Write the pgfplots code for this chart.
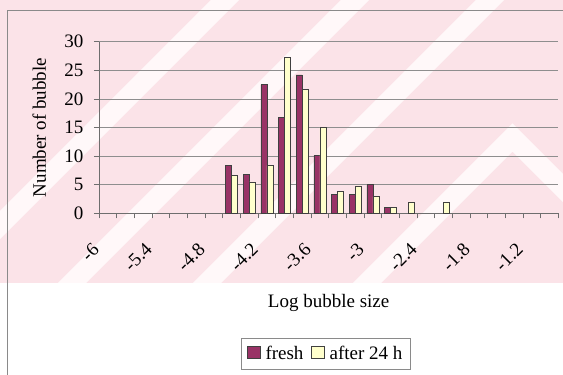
\documentclass[border=0pt]{standalone}
\usepackage{fontspec}
\setmainfont{Liberation Serif}
\usepackage{pgfplots}
\pgfplotsset{compat=1.18}

\definecolor{freshbar}{HTML}{993366}
\definecolor{agedbar}{HTML}{FFFFCC}
\definecolor{wash}{HTML}{FBE3E8}
\definecolor{band}{HTML}{FFF8F9}
\definecolor{gridgray}{HTML}{8E8E8E}
\definecolor{axisgray}{HTML}{6E6E6E}
\definecolor{framegray}{HTML}{8A8A8A}

\newcommand{\chartfont}{\fontsize{19}{22}\selectfont}

\begin{document}
\begin{tikzpicture}
\useasboundingbox (0pt,0pt) rectangle (563pt,375pt);
\fill[white] (0pt,0pt) rectangle (563pt,375pt);

% tinted backdrop with light diagonal bands
\begin{scope}
  \clip (0pt,92pt) rectangle (563pt,375pt);
  \fill[wash] (0pt,92pt) rectangle (563pt,375pt);
  \foreach \c in {225,355,490} {
    \draw[band, line width=20pt] ({(\c-303)*1pt},72pt) -- ({(\c+20)*1pt},395pt);
  }
  \draw[band, line width=20pt, line join=miter]
    (347pt,72pt) -- (512.5pt,237.5pt) -- (650pt,100pt);
\end{scope}

% chart frame
\draw[framegray, line width=0.8pt] (7pt,-10pt) -- (7pt,365pt) -- (580pt,365pt);

\begin{axis}[
  at={(99pt,161.7pt)}, anchor=south west,
  scale only axis, width=459.3pt, height=171.6pt,
  xmin=-0.5, xmax=25.5, ymin=0, ymax=30,
  ybar=0pt, bar width=0.34,
  axis lines*=left,
  axis line style={axisgray, line width=0.8pt},
  tick align=outside,
  major tick length=5pt,
  tick style={axisgray, line width=0.8pt},
  xtick={-0.5,0.5,...,25.5},
  xticklabels={},
  extra x ticks={0,3,...,24},
  extra x tick labels={-6,-5.4,-4.8,-4.2,-3.6,-3,-2.4,-1.8,-1.2},
  extra x tick style={
    major tick length=0pt,
    xticklabel style={xshift=-12pt, yshift=-33pt, rotate=45, anchor=east, inner sep=0pt},
  },
  ytick={0,5,...,30},
  ymajorgrids,
  grid style={gridgray, line width=0.7pt},
  yticklabel style={xshift=-7pt},
  /pgf/number format/assume math mode=true,
  tick label style={font=\chartfont},
  label style={font=\chartfont},
  xlabel={Log bubble size},
  ylabel={Number of bubble},
  xlabel style={at={(axis description cs:0.5,-0.52)}, anchor=center},
  ylabel style={at={(axis description cs:-0.13,0.5)}, anchor=center, rotate=0},
  legend columns=2,
  legend style={
    at={(axis description cs:0.494,-0.82)}, anchor=center,
    draw=framegray, fill=white, font=\chartfont,
    inner xsep=6pt, inner ysep=6pt,
    /tikz/every odd column/.append style={column sep=3pt},
    /tikz/every even column/.append style={column sep=6pt},
  },
  legend image code/.code={\draw[#1, line width=0.6pt] (0pt,-4.75pt) rectangle (12.5pt,7.75pt);},
]
\addplot[fill=freshbar, draw=black!75, line width=0.6pt] coordinates {
  (7,8.4) (8,6.8) (9,22.5) (10,16.8) (11,24.2) (12,10.1)
  (13,3.3) (14,3.3) (15,5.0) (16,1.0)
};
\addlegendentry{fresh}
\addplot[fill=agedbar, draw=black!75, line width=0.6pt] coordinates {
  (7,6.6) (8,5.5) (9,8.4) (10,27.2) (11,21.6) (12,15.0)
  (13,3.8) (14,4.8) (15,2.9) (16,1.0) (17,2.0) (19,2.0)
};
\addlegendentry{after 24 h}
\end{axis}
\end{tikzpicture}
\end{document}
